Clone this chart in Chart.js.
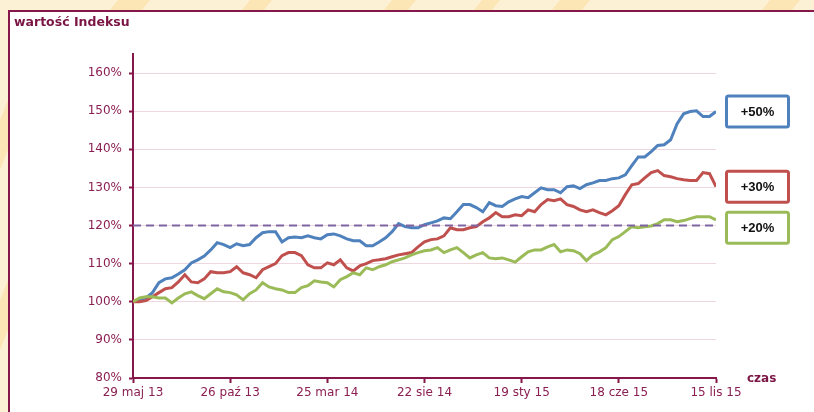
<!DOCTYPE html>
<html><head><meta charset="utf-8">
<script src="https://cdn.jsdelivr.net/npm/chart.js@4.4.1/dist/chart.umd.min.js"></script>
<style>html,body{margin:0;padding:0;background:#fdf1d5;overflow:hidden}#wrap{position:relative;width:814px;height:412px}</style>
</head><body><div id="wrap"><canvas id="c" width="814" height="412"></canvas></div>
<script>
// ---- data ----
const dayOffsets = [0,10,20,30,40,50,60,70,80,90,100,110,120,130,140,150,160,170,180,190,200,210,220,230,240,250,260,270,280,290,300,310,320,330,340,350,360,370,380,390,400,410,420,430,440,450,460,470,480,490,500,510,520,530,540,550,560,570,580,590,600,610,620,630,640,650,660,670,680,690,700,710,720,730,740,750,760,770,780,790,800,810,820,830,840,850,860,870,880,890,900];
const blueValues = [100,100.5,101,102.4,105,106,106.3,107.3,108.4,110.2,111,112,113.6,115.5,115,114.2,115.2,114.7,115,116.8,118.1,118.4,118.4,115.7,116.8,117,116.8,117.3,116.8,116.5,117.6,117.8,117.3,116.5,116,116,114.7,114.7,115.7,116.8,118.4,120.5,119.7,119.4,119.4,120.2,120.7,121.2,122,121.8,123.6,125.5,125.5,124.7,123.6,126,125.2,125,126.2,127,127.6,127.3,128.6,129.9,129.4,129.4,128.6,130.2,130.4,129.7,130.7,131.2,131.8,131.8,132.3,132.5,133.3,135.7,138,138,139.4,141,141.2,142.5,146.7,149.3,149.9,150.1,148.6,148.6,149.9];
const redValues = [100,100,100.3,101.3,102.4,103.4,103.7,105.2,107.1,105.2,105,106,107.9,107.6,107.6,107.9,109.2,107.6,107.1,106.3,108.4,109.2,110,112.1,112.9,112.9,112.1,109.7,108.9,108.9,110.2,109.7,111,108.9,108.1,109.4,110,110.8,111,111.3,111.8,112.3,112.6,112.9,114.4,115.7,116.3,116.5,117.3,119.4,118.9,118.9,119.4,119.7,121,122,123.4,122.3,122.3,122.8,122.6,124.1,123.6,125.5,126.8,126.5,127,125.5,125,124.1,123.6,124.1,123.4,122.8,123.9,125.2,128.1,130.7,131,132.5,133.9,134.4,133.1,132.8,132.3,132,131.8,131.8,133.9,133.6,130.2];
const greenValues = [100,101,101.3,101.3,101,101,99.7,101,102.1,102.6,101.6,100.8,102.1,103.4,102.6,102.4,101.8,100.5,102.1,103.1,105,103.9,103.4,103.1,102.4,102.4,103.7,104.2,105.5,105.2,105,103.9,105.8,106.6,107.6,107.1,108.9,108.4,109.2,109.7,110.5,111,111.5,112.3,112.9,113.4,113.6,114.2,112.9,113.6,114.2,112.9,111.5,112.3,112.9,111.5,111.3,111.5,111,110.4,111.8,113.1,113.6,113.6,114.4,115,113.1,113.6,113.4,112.6,110.8,112.3,113.1,114.2,116.3,117.1,118.4,119.7,119.4,119.7,119.9,120.5,121.5,121.5,121,121.3,121.8,122.3,122.3,122.3,121.5];
const thresholdValue = 120;
const seriesLabels = ['+50%','+30%','+20%'];
const xTickDays = [0,150,300,450,600,750,900];
const xTickLabels = ['29 maj 13','26 paź 13','25 mar 14','22 sie 14','19 sty 15','18 cze 15','15 lis 15'];
const yTickValues = [80,90,100,110,120,130,140,150,160];
const titleText = 'wartość Indeksu';
const xAxisTitle = 'czas';

// ---- styles ----
const MAROON = '#85174a';
const TEXT = '#8a1f52';
const COLORS = ['#4f81bd','#c0504d','#9bbb59'];
const PURPLE = '#8064a2';

const toPts = vals => vals.map((v,i)=>({x:dayOffsets[i], y:v}));

const framePlugin = {
  id:'frame',
  beforeDraw(chart){
    const ctx = chart.ctx;
    ctx.save();
    ctx.fillStyle = '#fdf1d5';
    ctx.fillRect(0,0,814,412);
    ctx.fillStyle = '#fce6b6';
    const stripes = [[118,150],[250,272],[392,416],[482,500],[560,590],[770,800]];
    stripes.forEach(([a,b])=>{ctx.beginPath();ctx.moveTo(a,0);ctx.lineTo(b,0);ctx.lineTo(b-8,10);ctx.lineTo(a-8,10);ctx.closePath();ctx.fill();});
    ctx.beginPath();ctx.moveTo(0,120);ctx.lineTo(8,100);ctx.lineTo(8,150);ctx.lineTo(0,170);ctx.closePath();ctx.fill();
    ctx.beginPath();ctx.moveTo(0,300);ctx.lineTo(8,280);ctx.lineTo(8,330);ctx.lineTo(0,350);ctx.closePath();ctx.fill();
    ctx.fillStyle = '#ffffff';
    ctx.fillRect(9,11,805,401);
    ctx.fillStyle = MAROON;
    ctx.fillRect(8,10,806,2);
    ctx.fillRect(8,10,2,402);
    ctx.fillStyle = '#7a1544';
    ctx.font = 'bold 12.5px "DejaVu Sans"';
    ctx.textBaseline = 'middle';
    ctx.textAlign = 'left';
    ctx.fillText(titleText,14,23);
    ctx.restore();
  },
  afterDraw(chart){
    const ctx = chart.ctx;
    const area = chart.chartArea;
    const ys = chart.scales.y;
    ctx.save();
    ctx.fillStyle = '#7a1544';
    ctx.font = 'bold 12px "DejaVu Sans"';
    ctx.textBaseline = 'middle';
    ctx.textAlign = 'left';
    ctx.fillText(xAxisTitle, area.right + 31, area.bottom + 1);
    const ends = [blueValues, redValues, greenValues].map(a=>a[a.length-1]);
    const bw = 62, bh = 31, bx = area.right + 10.5;
    let prevBottom = -Infinity;
    ends.forEach((v,i)=>{
      let cy = ys.getPixelForValue(v);
      let top = cy - bh/2;
      if (top < prevBottom + 10) top = prevBottom + 10;
      prevBottom = top + bh;
      ctx.fillStyle = '#fff';
      ctx.strokeStyle = COLORS[i];
      ctx.lineWidth = 3;
      ctx.beginPath();
      if (ctx.roundRect) ctx.roundRect(bx, top, bw, bh, 2); else ctx.rect(bx, top, bw, bh);
      ctx.fill(); ctx.stroke();
      ctx.fillStyle = '#111';
      ctx.font = 'bold 13px "Liberation Sans"';
      ctx.textAlign = 'center';
      ctx.textBaseline = 'middle';
      ctx.fillText(seriesLabels[i], bx + bw/2, top + bh/2 + 1);
    });
    ctx.restore();
  }
};

const lineDs = (label, vals, color) => ({
  label, data: toPts(vals), borderColor: color, borderWidth: 3,
  pointRadius: 0, tension: 0, fill: false
});

new Chart(document.getElementById('c'), {
  type: 'line',
  data: {
    datasets: [
      {label:'próg', data:[{x:xTickDays[0],y:thresholdValue},{x:xTickDays[xTickDays.length-1],y:thresholdValue}],
       borderColor:PURPLE, borderWidth:2, borderDash:[8,5], pointRadius:0, fill:false},
      lineDs(seriesLabels[2], greenValues, COLORS[2]),
      lineDs(seriesLabels[1], redValues, COLORS[1]),
      lineDs(seriesLabels[0], blueValues, COLORS[0])
    ]
  },
  options: {
    responsive: false,
    devicePixelRatio: 1,
    animation: false,
    layout: { padding: { left: 0, right: 98, top: 54, bottom: 0 } },
    plugins: { legend: { display: false }, tooltip: { enabled: false }, title: { display: false } },
    scales: {
      x: {
        type: 'linear', min: xTickDays[0], max: xTickDays[xTickDays.length-1],
        afterBuildTicks: s => { s.ticks = xTickDays.map(v=>({value:v})); },
        afterFit: s => { s.height = 34; },
        ticks: {
          callback: (v) => xTickLabels[xTickDays.indexOf(v)],
          color: TEXT, font: { family: 'DejaVu Sans', size: 12 }, padding: 3,
          maxRotation: 0, autoSkip: false
        },
        grid: { drawOnChartArea: false, drawTicks: true, tickLength: 5, tickColor: MAROON, tickWidth: 2 },
        border: { color: MAROON, width: 2 }
      },
      y: {
        type: 'linear', min: 80, max: 165,
        afterBuildTicks: s => { s.ticks = yTickValues.map(v=>({value:v})); },
        afterFit: s => { s.width = 133; },
        ticks: {
          callback: v => v + '%',
          color: TEXT, font: { family: 'DejaVu Sans', size: 12 }, padding: 7
        },
        grid: { color: '#efd7e0', lineWidth: 1, tickLength: 4, tickColor: MAROON, tickWidth: 2 },
        border: { color: MAROON, width: 2 }
      }
    }
  },
  plugins: [framePlugin]
});
</script></body></html>
